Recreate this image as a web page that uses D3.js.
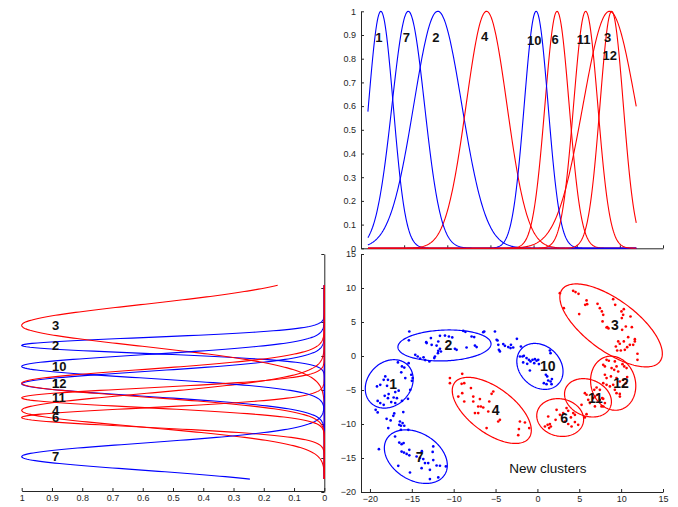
<!DOCTYPE html>
<html><head><meta charset="utf-8">
<script src="https://cdn.jsdelivr.net/npm/d3@7"></script>
<style>
body{margin:0;background:#fff}
svg{display:block}
text{font-family:"Liberation Sans",Arial,sans-serif}
</style>
</head><body>
<svg id="c" width="678" height="507"></svg>
<script>
// ---------------- data ----------------
const clusterIds   = [1, 2, 3, 4, 6, 7, 10, 11, 12];
const clusterGroup = ["old","old","new","new","new","old","old","new","new"];
const meanX  = [-17.7, -11.1, 8.8, -5.45, 2.72, -14.52, 0.3, 6.04, 9.05];
const meanY  = [-4.1, 1.55, 4.5, -8.0, -9.05, -14.8, -1.53, -6.15, -4.0];
const sigmaX = [1.43, 2.78, 3.06, 2.36, 1.4, 1.88, 1.38, 1.4, 1.35];
const sigmaY = [1.78, 1.14, 3.05, 2.43, 1.39, 1.97, 1.69, 1.41, 1.99];
const corrXY = [0.2, 0.1, -0.68, -0.6, -0.1, -0.32, -0.22, -0.2, -0.1];
const topLabelLevel = [0.89, 0.89, 0.89, 0.893, 0.882, 0.89, 0.876, 0.882, 0.812];

const xSpan = [-19.2, 11.9];
const ySpan = [-18.1, 10.4];

const bluePoints = [
 // cluster 1
 [-16.66,-0.95],[-16.18,-1.54],[-15.9,-1.7],[-15.38,-1.05],[-16.26,-2.4],[-15.07,-2.76],[-15.78,-3.25],[-14.99,-3.65],[-15.19,-4.97],[-14.9,-3.24],
 [-18.17,-3.0],[-18.36,-3.5],[-17.85,-3.5],[-18.77,-4.24],[-19.16,-4.48],[-17.96,-4.38],[-16.98,-5.3],[-16.57,-5.1],[-17.17,-6.1],[-17.77,-5.6],
 [-18.24,-5.85],[-17.85,-6.2],[-16.78,-6.2],[-17.46,-6.78],[-16.98,-6.93],[-16.18,-6.6],[-18.36,-7.18],[-15.46,-6.3],[-19.08,-6.6],[-18.77,-6.93],
 // between 1 and 7
 [-19.32,-7.91],[-19.08,-8.3],[-18.01,-9.24],[-17.53,-9.48],[-17.21,-8.8],[-17.1,-8.45],[-16.02,-8.25],[-16.42,-9.63],[-16.1,-9.87],[-16.5,-10.12],
 [-16.3,-10.26],[-15.9,-10.26],[-17.81,-10.6],
 // cluster 7
 [-17.0,-11.84],[-16.5,-12.73],[-16.22,-12.97],[-16.22,-14.06],[-16.62,-16.15],[-15.94,-14.2],[-15.62,-14.4],[-15.3,-14.6],[-15.3,-13.8],[-15.42,-10.85],
 [-15.22,-17.13],[-14.43,-14.78],[-14.03,-15.0],[-13.63,-15.16],[-13.43,-15.75],[-13.83,-16.5],[-13.04,-15.75],[-12.84,-16.74],[-12.44,-15.3],[-12.44,-13.3],
 [-12.04,-16.1],[-11.64,-16.14],[-12.84,-18.1],[-11.84,-17.86],[-10.93,-16.24],[-18.93,-13.7],[-15.98,-12.8],[-13.8,-14.0],[-12.51,-14.1],[-16.3,-10.85],
 // cluster 2
 [-15.3,3.6],[-15.35,2.3],[-14.59,0.18],[-14.3,-0.07],[-14.0,-0.4],[-13.6,-0.2],[-13.4,-0.6],[-12.9,-0.8],[-13.28,2.04],[-12.72,2.63],
 [-13.23,1.9],[-12.63,1.65],[-12.04,1.54],[-11.64,2.97],[-11.04,3.0],[-10.57,2.87],[-10.17,2.73],[-11.84,2.13],[-11.64,1.06],[-11.84,0.76],
 [-11.52,0.66],[-11.88,0.42],[-12.24,-0.07],[-12.32,-0.31],[-9.85,1.06],[-9.65,0.91],[-8.86,3.7],[-8.6,3.55],[-8.46,1.25],[-7.86,2.87],
 [-7.55,2.78],[-7.46,1.54],[-7.26,1.31],[-6.47,3.5],[-6.35,3.6],
 // bridge between 2 and 10
 [-5.07,3.6],[-4.87,2.38],[-4.67,1.65],[-4.08,1.75],[-3.88,1.5],[-3.48,1.31],[-3.16,1.65],[-2.89,1.25],[-2.45,2.53],[-4.6,0.91],
 [-4.48,0.67],[-4.76,2.28],[-3.21,1.16],
 // cluster 10
 [-1.97,1.4],[-2.09,-0.07],[-1.78,-0.07],[-1.62,0.03],[-1.3,-0.31],[-1.02,-0.56],[-0.82,-0.8],[-0.58,-0.56],[-0.3,-0.46],[-0.1,-0.7],
 [0.1,-0.56],[-1.7,-0.95],[-1.22,-1.15],[-0.9,-2.13],[-0.38,-1.05],[1.49,0.81],[1.57,0.42],[1.01,-2.76],[1.17,-3.0],[1.29,-3.6],
 [0.77,-3.99],[1.09,-4.14],[1.57,-3.75],[1.69,-4.14],[1.73,-3.4],[0.18,-1.19]
];

const redPoints = [
 // cluster 4
 [-10.45,-3.25],[-10.45,-3.99],[-8.98,-2.62],[-9.05,-4.09],[-8.74,-3.99],[-7.94,-4.72],[-9.45,-5.96],[-8.98,-5.46],[-8.74,-6.69],[-7.66,-5.96],
 [-7.66,-6.69],[-6.87,-6.34],[-7.07,-7.43],[-6.75,-7.43],[-6.47,-7.57],[-7.46,-8.4],[-7.07,-8.4],[-5.87,-8.16],[-5.75,-6.69],[-5.47,-5.56],
 [-5.27,-5.22],[-4.87,-7.43],[-4.68,-9.63],[-4.48,-9.38],[-6.07,-10.6],[-2.09,-9.63],[-1.49,-9.78],[-2.21,-10.75],[-2.29,-11.65],[-0.98,-10.6],
 // cluster 6
 [0.9,-10.37],[1.22,-10.12],[1.49,-10.01],[1.61,-10.37],[1.29,-8.9],[2.29,-7.91],[2.17,-9.38],[2.69,-8.65],[3.68,-8.06],[4.0,-9.04],
 [4.28,-8.4],[4.48,-8.65],[3.28,-9.63],[3.68,-10.0],[4.48,-9.72],[4.08,-10.37],[4.87,-10.12],[3.48,-7.66],[3.08,-8.4],[1.4,-10.6],
 // cluster 11
 [5.67,-5.46],[5.87,-5.7],[6.07,-6.44],[6.27,-6.93],[6.67,-6.19],[6.87,-5.96],[7.18,-5.7],[6.79,-4.97],[7.07,-4.63],[7.46,-4.97],
 [7.74,-6.19],[7.86,-7.43],[5.27,-7.18],[5.87,-8.55],[7.46,-6.44],[7.86,-6.3],[8.06,-6.93],[7.66,-7.42],[6.87,-7.42],[5.67,-9.04],
 // cluster 12
 [8.26,-0.56],[8.53,-0.7],[7.86,-1.3],[8.06,-1.54],[9.25,-0.8],[9.45,-1.54],[8.86,-1.78],[9.17,-2.03],[9.65,-2.28],[10.37,-1.54],
 [10.65,-1.78],[10.25,-3.5],[8.06,-2.76],[8.26,-3.25],[7.86,-3.99],[8.26,-4.24],[8.66,-4.48],[9.05,-4.24],[9.25,-4.97],[9.45,-5.46],
 [9.85,-5.96],[8.78,-3.0],[9.45,-3.25],[10.72,-3.1],[10.56,-3.99],[9.84,-3.75],[10.24,-4.48],[9.84,-5.57],[10.16,-1.2],
 // cluster 3
 [2.68,9.24],[3.16,7.04],[4.27,9.59],[4.55,9.4],[4.91,9.14],[4.99,6.16],[5.71,7.52],[5.87,8.17],[5.94,7.62],[7.18,7.67],
 [7.46,7.04],[7.7,6.55],[7.78,5.08],[7.86,6.06],[8.25,4.19],[8.49,4.05],[8.34,4.25],[9.05,8.36],[9.29,7.53],[10.04,6.55],
 [10.24,6.06],[10.08,5.57],[10.32,6.89],[11.12,5.81],[11.28,4.24],[10.56,4.34],[10.12,3.85],[9.65,2.14],[9.84,1.8],[10.32,2.14],
 [10.84,2.77],[11.64,2.48],[11.64,2.14],[11.95,0.33],[11.95,-0.56],[10.44,0.91],[9.96,0.81],[9.53,0.81],[10.72,1.3],[11.04,1.65],
 [11.44,1.65],[9.37,1.4]
];

const topXTicks  = [-20,-15,-10,-5,0,5,10,15];
const topYTicks  = [0,0.1,0.2,0.3,0.4,0.5,0.6,0.7,0.8,0.9,1];
const scatXTicks = [-20,-15,-10,-5,0,5,10,15];
const scatYTicks = [-20,-15,-10,-5,0,5,10,15];
const densTicks  = [1,0.9,0.8,0.7,0.6,0.5,0.4,0.3,0.2,0.1,0];
const noteText = "New clusters";
const notePos  = [-3.37, -16.6];

// ---------------- drawing ----------------
const svg = d3.select("#c");
const colorOf = d3.scaleOrdinal().domain(["old","new"]).range(["#0000ff","#ff0000"]);
const ink = "#262626";

const xTop  = d3.scaleLinear().domain([-20,15]).range([361,663]);
const yTop  = d3.scaleLinear().domain([0,1]).range([248.3,11.3]);
const xSc   = d3.scaleLinear().domain([-21.07,15]).range([361,663]);
const ySc   = d3.scaleLinear().domain([-20,15]).range([492,254]);
const xDen  = d3.scaleLinear().domain([1,0]).range([21.7,324.3]);

function styleAxis(g){
  g.selectAll("path,line").attr("stroke",ink).attr("stroke-width",1);
  g.selectAll("text").attr("fill",ink).style("font-size","9px")
   .style("font-family","'Liberation Sans',Arial,sans-serif");
}

// top axes
svg.append("g").attr("transform","translate(0,248.3)")
  .call(d3.axisBottom(xTop).tickValues(topXTicks).tickSize(-3).tickSizeOuter(0).tickFormat(""))
  .call(styleAxis);
svg.append("g").attr("transform","translate(361,0)")
  .call(d3.axisLeft(yTop).tickValues(topYTicks).tickSize(-3).tickSizeOuter(0).tickPadding(5).tickFormat(d3.format("~g")))
  .call(styleAxis);

// scatter axes
svg.append("g").attr("transform","translate(0,492)")
  .call(d3.axisBottom(xSc).tickValues(scatXTicks).tickSize(-3).tickSizeOuter(0).tickPadding(4))
  .call(styleAxis);
svg.append("g").attr("transform","translate(361,0)")
  .call(d3.axisLeft(ySc).tickValues(scatYTicks).tickSize(-3).tickSizeOuter(0).tickPadding(5))
  .call(styleAxis);

// density (left) axes
svg.append("g").attr("transform","translate(0,491)")
  .call(d3.axisBottom(xDen).tickValues(densTicks).tickSize(-3).tickSizeOuter(0).tickPadding(4).tickFormat(d3.format("~g")))
  .call(styleAxis);
svg.append("g").attr("transform","translate(324.3,0)")
  .call(d3.axisLeft(ySc).tickValues(scatYTicks).tickSize(3).tickSizeOuter(0).tickFormat(""))
  .call(styleAxis);

const gauss = (v,m,s) => Math.exp(-((v-m)*(v-m))/(2*s*s));
const N = 400;
const xs = d3.range(N+1).map(i => xSpan[0] + (xSpan[1]-xSpan[0])*i/N);
const ys = d3.range(N+1).map(i => ySpan[0] + (ySpan[1]-ySpan[0])*i/N);

const lineTop = d3.line().x(d=>xTop(d[0])).y(d=>yTop(d[1]));
clusterIds.forEach((id,i)=>{
  svg.append("path")
    .attr("d", lineTop(xs.map(x=>[x, gauss(x, meanX[i], sigmaX[i])])))
    .attr("fill","none").attr("stroke",colorOf(clusterGroup[i])).attr("stroke-width",1.1);
});
const lineLeft = d3.line().x(d=>xDen(d[1])).y(d=>ySc(d[0]));
clusterIds.forEach((id,i)=>{
  svg.append("path")
    .attr("d", lineLeft(ys.map(y=>[y, gauss(y, meanY[i], sigmaY[i])])))
    .attr("fill","none").attr("stroke",colorOf(clusterGroup[i])).attr("stroke-width",1.1);
});

clusterIds.forEach((id,i)=>{
  svg.append("text").text(id)
    .attr("x", xTop(meanX[i]) - 2).attr("y", yTop(topLabelLevel[i]))
    .attr("text-anchor","middle").attr("dominant-baseline","central")
    .style("font-size","13px").style("font-weight","bold").attr("fill","#111");
  svg.append("text").text(id)
    .attr("x", xDen(0.9)).attr("y", ySc(meanY[i]))
    .attr("text-anchor","start").attr("dominant-baseline","central")
    .style("font-size","13px").style("font-weight","bold").attr("fill","#111");
});

svg.append("g").selectAll("circle").data(bluePoints).join("circle")
  .attr("cx",d=>xSc(d[0])).attr("cy",d=>ySc(d[1])).attr("r",1.35).attr("fill",colorOf("old"));
svg.append("g").selectAll("circle").data(redPoints).join("circle")
  .attr("cx",d=>xSc(d[0])).attr("cy",d=>ySc(d[1])).attr("r",1.35).attr("fill",colorOf("new"));

const lineEll = d3.line().x(d=>xSc(d[0])).y(d=>ySc(d[1]));
clusterIds.forEach((id,i)=>{
  const sxx = sigmaX[i]*sigmaX[i], syy = sigmaY[i]*sigmaY[i], sxy = corrXY[i]*sigmaX[i]*sigmaY[i];
  const tr = (sxx+syy)/2, dd = Math.sqrt(((sxx-syy)/2)**2 + sxy*sxy);
  const l1 = tr+dd, l2 = Math.max(tr-dd, 1e-6);
  const th = 0.5*Math.atan2(2*sxy, sxx-syy);
  const a = 2*Math.sqrt(l1), b = 2*Math.sqrt(l2);
  const pts = d3.range(181).map(k=>{
    const p = 2*Math.PI*k/180;
    return [meanX[i] + a*Math.cos(p)*Math.cos(th) - b*Math.sin(p)*Math.sin(th),
            meanY[i] + a*Math.cos(p)*Math.sin(th) + b*Math.sin(p)*Math.cos(th)];
  });
  svg.append("path").attr("d", lineEll(pts))
    .attr("fill","none").attr("stroke",colorOf(clusterGroup[i])).attr("stroke-width",1.2);
});

clusterIds.forEach((id,i)=>{
  svg.append("text").text(id)
    .attr("x", xSc(meanX[i])).attr("y", ySc(meanY[i]))
    .attr("text-anchor","start").attr("dominant-baseline","central")
    .style("font-size","14px").style("font-weight","bold").attr("fill","#111");
});

svg.append("text").text(noteText)
  .attr("x", xSc(notePos[0])).attr("y", ySc(notePos[1]))
  .attr("dominant-baseline","central")
  .style("font-size","13.5px").attr("fill","#111");
</script>
</body></html>
